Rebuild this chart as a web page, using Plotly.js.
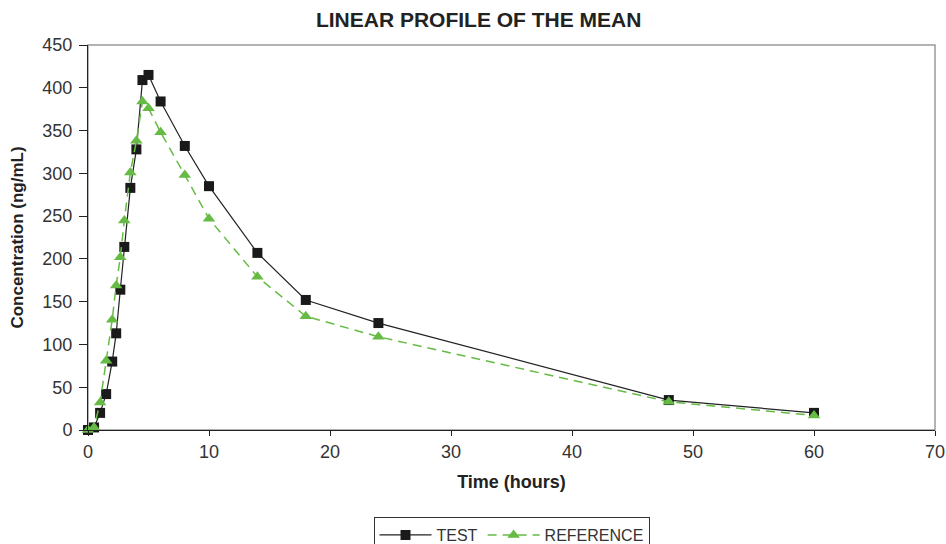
<!DOCTYPE html>
<html>
<head>
<meta charset="utf-8">
<script src="https://cdn.plot.ly/plotly-3.0.1.min.js"></script>
<style>html,body{margin:0;padding:0;background:#fff;}#chart{width:946px;height:544px;}</style>
</head>
<body>
<div id="chart"></div>
<script>
const timeHours = [0, 0.5, 1, 1.5, 2, 2.33, 2.67, 3, 3.5, 4, 4.5, 5, 6, 8, 10, 14, 18, 24, 48, 60];
const testConc = [0, 3, 20, 42, 80, 113, 164, 214, 283, 328, 409, 415, 384, 332, 285, 207, 152, 125, 35, 20];
const referenceConc = [0, 3, 32, 81, 129, 169, 202, 245, 301, 338, 384, 376, 348, 298, 247, 179, 133, 109, 33, 17];
const seriesNames = ['TEST', 'REFERENCE'];
const xTicks = [0, 10, 20, 30, 40, 50, 60, 70];
const yTicks = [0, 50, 100, 150, 200, 250, 300, 350, 400, 450];

const font = 'Liberation Sans, Arial, sans-serif';
const traces = [
  {
    x: timeHours, y: testConc, name: seriesNames[0], type: 'scatter', mode: 'lines+markers', cliponaxis: false,
    line: {color: '#222222', width: 1.2},
    marker: {symbol: 'square', size: 10, color: '#1a1a1a'}
  },
  {
    x: timeHours, y: referenceConc, name: seriesNames[1], type: 'scatter', mode: 'lines+markers', cliponaxis: false,
    line: {color: '#66bb44', width: 1.5, dash: '9px,6px'},
    marker: {symbol: 'triangle-up', size: 11, color: '#66bb44'}
  }
];
const layout = {
  width: 946, height: 544,
  margin: {l: 88, r: 11, t: 45, b: 114, autoexpand: false},
  paper_bgcolor: '#ffffff', plot_bgcolor: '#ffffff',
  font: {family: font, size: 17, color: '#333333'},
  title: {text: '<b>LINEAR PROFILE OF THE MEAN</b>', x: 0.506, xanchor: 'center', y: 0.963, yanchor: 'middle',
          font: {family: font, size: 21, color: '#222222'}},
  xaxis: {
    range: [0, 70], tickvals: xTicks, ticktext: xTicks.map(String),
    showgrid: false, zeroline: false, showline: true, linecolor: '#222222', linewidth: 1,
    ticks: 'outside', ticklen: 5, tickcolor: '#222222', automargin: false,
    tickfont: {family: font, size: 18, color: '#333333'},
    title: {text: '<b>Time (hours)</b>', font: {family: font, size: 18, color: '#222222'}, standoff: 14}
  },
  yaxis: {
    range: [0, 450], tickvals: yTicks, ticktext: yTicks.map(String),
    showgrid: false, zeroline: false, showline: true, linecolor: '#222222', linewidth: 1,
    ticks: 'outside', ticklen: 8, tickcolor: '#222222', automargin: false, ticklabelstandoff: 3,
    tickfont: {family: font, size: 18, color: '#333333'},
    title: {text: '<b>Concentration (ng/mL)</b>', font: {family: font, size: 17, color: '#222222'}, standoff: 14}
  },
  shapes: [{type: 'rect', xref: 'paper', yref: 'paper', x0: 0, x1: 1, y0: 0, y1: 1,
            line: {color: '#9a9a9a', width: 1.5}, layer: 'below'}],
  showlegend: true,
  legend: {orientation: 'h', x: 0.5, xanchor: 'center', y: -0.226, yanchor: 'top',
           bordercolor: '#333333', borderwidth: 1, bgcolor: '#ffffff',
           font: {family: font, size: 16, color: '#333333'}, itemwidth: 52}
};
Plotly.newPlot('chart', traces, layout, {displayModeBar: false, staticPlot: true});
</script>
</body>
</html>
